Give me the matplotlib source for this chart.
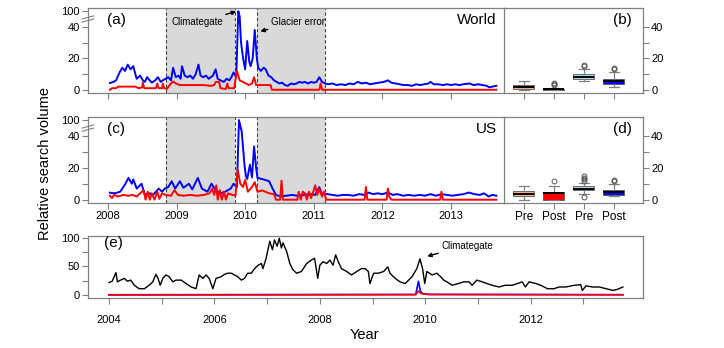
import numpy as np
import matplotlib
matplotlib.use("Agg")
import matplotlib.pyplot as plt
from matplotlib.ticker import FixedLocator, NullFormatter

plt.rcParams['font.family'] = ['Liberation Sans', 'DejaVu Sans']

# ---- data ----
# (a) World, weekly relative search volume
worldBlueYears = [2008.03, 2008.08, 2008.12, 2008.17, 2008.21, 2008.25, 2008.29, 2008.33, 2008.37, 2008.40,
                  2008.42, 2008.47, 2008.51, 2008.54, 2008.57, 2008.61, 2008.64, 2008.69, 2008.73, 2008.77,
                  2008.80, 2008.84, 2008.88, 2008.92, 2008.95, 2008.99, 2009.03, 2009.06, 2009.08, 2009.12,
                  2009.16, 2009.20, 2009.24, 2009.28, 2009.32, 2009.35, 2009.39, 2009.43, 2009.47, 2009.50,
                  2009.53, 2009.57, 2009.60, 2009.64, 2009.69, 2009.73, 2009.77, 2009.80, 2009.83, 2009.87,
                  2009.90, 2009.92, 2009.94, 2009.97, 2010.00, 2010.03, 2010.06, 2010.08, 2010.11, 2010.14,
                  2010.17, 2010.19, 2010.23, 2010.27, 2010.30, 2010.34, 2010.38, 2010.42, 2010.46, 2010.50,
                  2010.54, 2010.58, 2010.62, 2010.67, 2010.71, 2010.75, 2010.79, 2010.83, 2010.87, 2010.92,
                  2010.96, 2011.00, 2011.04, 2011.08, 2011.12, 2011.17, 2011.21, 2011.27, 2011.33, 2011.40,
                  2011.46, 2011.52, 2011.58, 2011.64, 2011.70, 2011.76, 2011.82, 2011.88, 2011.95, 2012.02,
                  2012.08, 2012.13, 2012.19, 2012.25, 2012.31, 2012.37, 2012.43, 2012.49, 2012.55, 2012.61,
                  2012.67, 2012.70, 2012.75, 2012.81, 2012.88, 2012.94, 2013.00, 2013.06, 2013.12, 2013.18,
                  2013.27, 2013.33, 2013.40, 2013.46, 2013.52, 2013.56, 2013.60, 2013.66]
worldBlue = [4.3, 5, 6, 11, 14, 12, 16, 13, 15, 10,
             7, 9, 6, 5, 8, 6, 4.5, 6, 8, 5,
             6, 7, 8, 6, 14, 8, 9, 7, 15, 9,
             8, 9, 7, 10, 16, 9, 8, 9, 7, 8,
             9, 13, 7, 6, 5, 7, 6, 8, 11, 8,
             100, 80, 30, 20, 13, 31, 18, 15, 20, 38,
             20, 14, 12, 14, 13, 9, 8, 6, 5, 4,
             4.5, 3, 2.5, 4, 3.5, 4, 5, 4.5, 5, 4,
             5, 4.5, 5, 8, 5, 4, 3.5, 4, 3, 3.5,
             3, 4, 3.5, 5, 4, 4.5, 3.5, 4, 4.5, 5,
             6, 4.5, 4, 3.5, 3, 3, 2.5, 3.5, 3, 3.5,
             4, 5, 3.5, 3.5, 3, 3.5, 3, 3.5, 3, 3.5,
             4, 3, 3.5, 3, 2.5, 1.5, 2, 2.5]

worldRedYears = [2008.03, 2008.06, 2008.12, 2008.15, 2008.30, 2008.40, 2008.45, 2008.50, 2008.51, 2008.53,
                 2008.70, 2008.72, 2008.74, 2008.79, 2008.80, 2008.82, 2008.86, 2008.90, 2008.95, 2008.99,
                 2009.05, 2009.40, 2009.50, 2009.55, 2009.57, 2009.62, 2009.64, 2009.72, 2009.74, 2009.76,
                 2009.84, 2009.88, 2009.92, 2009.97, 2010.05, 2010.10, 2010.13, 2010.16, 2010.37, 2010.39,
                 2011.08, 2011.10, 2011.12, 2013.66]
worldRed = [0, 1, 1, 2, 2, 2, 1, 1.5, 4.5, 1,
            1, 4, 1, 1, 4, 1, 0.5, 3, 5.3, 4,
            3, 3, 2.5, 3, 5, 5, 1, 0.5, 4, 1,
            1, 12, 6, 5, 3, 4, 8, 3, 3, 0,
            0, 4, 0, 0]

# (c) US
usBlueYears = [2008.03, 2008.10, 2008.18, 2008.25, 2008.30, 2008.35, 2008.37, 2008.42, 2008.49, 2008.54,
               2008.61, 2008.66, 2008.74, 2008.79, 2008.83, 2008.88, 2008.93, 2008.98, 2009.05, 2009.10,
               2009.18, 2009.23, 2009.31, 2009.37, 2009.45, 2009.51, 2009.57, 2009.64, 2009.71, 2009.79,
               2009.83, 2009.88, 2009.91, 2009.95, 2009.99, 2010.01, 2010.03, 2010.07, 2010.10, 2010.13,
               2010.16, 2010.18, 2010.27, 2010.35, 2010.40, 2010.45, 2010.52, 2010.60, 2010.68, 2010.76,
               2010.85, 2010.95, 2011.02, 2011.08, 2011.12, 2011.20, 2011.27, 2011.35, 2011.42, 2011.50,
               2011.58, 2011.66, 2011.74, 2011.80, 2011.86, 2011.93, 2012.00, 2012.08, 2012.15, 2012.22,
               2012.30, 2012.38, 2012.46, 2012.54, 2012.62, 2012.70, 2012.78, 2012.86, 2012.94, 2013.02,
               2013.10, 2013.18, 2013.26, 2013.34, 2013.42, 2013.48, 2013.55, 2013.60, 2013.66]
usBlue = [4.4, 4, 5, 9.6, 13.7, 10, 12.7, 7, 10, 3,
          4, 3, 7, 5, 7, 8, 11.6, 7, 11.6, 7.5,
          10, 6.5, 13.7, 7, 5, 10, 6, 4, 5, 7,
          10, 8, 100, 57, 22, 15, 13, 22, 14, 33.5,
          20, 13.7, 12.7, 11.6, 7, 3, 2, 2.5, 3, 2.5,
          3, 3.5, 3, 7.9, 3.5, 3.5, 3, 2.5, 3, 3,
          2.5, 3.5, 3, 4.5, 3.5, 4, 3.5, 4.5, 3, 3.5,
          2.5, 3, 2.5, 3, 2.5, 3.5, 2.5, 3.5, 3, 2.5,
          3, 3.5, 4.5, 3.5, 3, 4, 2, 3, 2.5]

usRedYears = [2008.03, 2008.06, 2008.09, 2008.15, 2008.22, 2008.30, 2008.36, 2008.42, 2008.47, 2008.52,
              2008.55, 2008.58, 2008.61, 2008.64, 2008.68, 2008.72, 2008.75, 2008.79, 2008.84, 2008.92,
              2008.97, 2009.02, 2009.10, 2009.20, 2009.30, 2009.40, 2009.48, 2009.52, 2009.55, 2009.58,
              2009.60, 2009.63, 2009.66, 2009.69, 2009.72, 2009.75, 2009.82, 2009.86, 2009.89, 2009.93,
              2009.97, 2010.00, 2010.04, 2010.10, 2010.14, 2010.18, 2010.25, 2010.35, 2010.42, 2010.45,
              2010.51, 2010.53, 2010.55, 2010.76, 2010.78, 2010.81, 2010.84, 2010.87, 2010.90, 2010.93,
              2010.96, 2011.00, 2011.02, 2011.05, 2011.08, 2011.12, 2011.15, 2011.18, 2011.74, 2011.76,
              2011.78, 2012.06, 2012.08, 2012.10, 2012.13, 2012.84, 2012.86, 2012.88, 2013.66]
usRed = [2.5, 1, 3, 2, 3, 2.5, 3, 2, 4, 6,
         0, 5, 0, 4, 0, 5, 0.5, 4, 3, 2.5,
         6, 3, 2.5, 3, 2.5, 3, 4, 7, 3, 9,
         0, 6, 0, 5, 0, 4, 3, 2.5, 19, 10,
         8, 12.5, 5, 8, 11, 5, 5.8, 4, 3.5, 0,
         0, 12, 0, 0, 5, 0, 5, 4, 0, 5,
         1, 6, 9, 3, 7, 2, 5, 0, 0, 8,
         0, 0, 7, 2, 0, 0, 5, 0, 0]

# (b), (d) boxplot summaries: Pre / Post for red and blue series
boxLabels = ['Pre', 'Post', 'Pre', 'Post']
boxColors = ['#f4b183', '#ff0000', '#add8e6', '#0000ff']
worldMed = [1.7, 0.2, 8.3, 5.3]
worldQ1 = [0.2, 0.0, 7.0, 3.8]
worldQ3 = [3.0, 0.5, 10.0, 7.0]
worldLo = [0.0, 0.0, 5.3, 2.0]
worldHi = [5.3, 1.0, 13.4, 11.3]
worldFliers = [[], [3.2, 3.8, 4.5], [15.0, 16.0], [13.0, 14.0]]
usMed = [3.8, 4.4, 6.9, 4.8]
usQ1 = [2.3, 0.0, 5.8, 2.7]
usQ3 = [5.2, 4.6, 8.3, 6.3]
usLo = [0.0, 0.0, 3.8, 2.1]
usHi = [8.3, 8.8, 10.2, 9.6]
usFliers = [[], [12.0], [1.7, 11.7, 12.8, 13.6, 14.8], [12.0, 12.6]]

# (e) 2004-2013 overview
longYears = [2004.00, 2004.06, 2004.13, 2004.16, 2004.22, 2004.29, 2004.35, 2004.41, 2004.48, 2004.57,
             2004.67, 2004.76, 2004.83, 2004.89, 2004.93, 2004.97, 2005.02, 2005.08, 2005.14, 2005.21,
             2005.27, 2005.37, 2005.46, 2005.56, 2005.65, 2005.71, 2005.78, 2005.84, 2005.90, 2005.97,
             2006.03, 2006.13, 2006.19, 2006.25, 2006.32, 2006.38, 2006.44, 2006.51, 2006.57, 2006.63,
             2006.70, 2006.76, 2006.83, 2006.89, 2006.92, 2006.98, 2007.05, 2007.10, 2007.14, 2007.19,
             2007.23, 2007.27, 2007.30, 2007.37, 2007.43, 2007.49, 2007.56, 2007.65, 2007.75, 2007.84,
             2007.90, 2007.96, 2008.00, 2008.06, 2008.13, 2008.19, 2008.25, 2008.30, 2008.35, 2008.41,
             2008.51, 2008.60, 2008.70, 2008.79, 2008.86, 2008.92, 2008.95, 2009.02, 2009.11, 2009.21,
             2009.29, 2009.33, 2009.43, 2009.52, 2009.62, 2009.75, 2009.84, 2009.90, 2009.95, 2009.99,
             2010.03, 2010.13, 2010.22, 2010.29, 2010.35, 2010.41, 2010.51, 2010.63, 2010.73, 2010.83,
             2010.89, 2010.98, 2011.08, 2011.17, 2011.27, 2011.40, 2011.52, 2011.65, 2011.75, 2011.84,
             2011.90, 2011.97, 2012.10, 2012.19, 2012.32, 2012.44, 2012.54, 2012.67, 2012.83, 2012.95,
             2012.98, 2013.05, 2013.17, 2013.30, 2013.43, 2013.56, 2013.65, 2013.75]
longBlack = [21.8, 24, 39, 23, 26, 29, 24, 26, 17, 11,
             11, 17, 23, 36, 29, 17, 29, 35, 32, 23,
             26, 26, 20, 14, 11, 35, 29, 35, 29, 11,
             29, 32, 36, 38, 38, 35, 32, 26, 29, 38,
             38, 46, 52, 55, 46, 64, 94, 79, 96, 85,
             99, 82, 91, 76, 55, 44, 38, 41, 55, 61,
             64, 29, 52, 58, 55, 61, 52, 70, 58, 46,
             41, 35, 41, 46, 46, 41, 20, 38, 38, 41,
             49, 38, 29, 23, 20, 32, 46, 63, 46, 20,
             41, 35, 38, 32, 26, 23, 17, 20, 23, 23,
             17, 26, 23, 20, 17, 14, 17, 17, 20, 23,
             14, 23, 20, 17, 11, 11, 14, 14, 17, 18,
             8, 16, 14, 14, 11, 8, 10, 14]
longBlueYears = [2004.00, 2009.82, 2009.87, 2009.91, 2009.96, 2010.05, 2013.75]
longBlue = [0.5, 1, 24, 6, 2, 1, 0.5]
longRedYears = [2004.00, 2009.82, 2009.87, 2009.91, 2009.96, 2010.10, 2013.75]
longRed = [0, 0.5, 7, 3, 2, 1, 0.5]

# periods shaded in (a) and (c)
prePeriod = (2008.84, 2009.85)
postPeriod = (2010.18, 2011.17)

GREY = '#808080'


def fwd(v):
    v = np.asarray(v, dtype=float)
    return np.where(v <= 40, v, 40 + (v - 40) / 6.0)


def inv(u):
    u = np.asarray(u, dtype=float)
    return np.where(u <= 40, u, 40 + (u - 40) * 6.0)


def styleAxes(ax):
    for s in ax.spines.values():
        s.set_color(GREY)
        s.set_linewidth(0.9)
    ax.tick_params(which='both', direction='out', color=GREY, width=0.8, labelsize=8, pad=2, length=4)


def brokenAxis(ax):
    # small "=" break mark on the left spine
    tr = ax.get_yaxis_transform()
    for y0, y1 in [(58, 70), (70, 82)]:
        ax.plot([-0.014, 0.014], [y0, y1], color=GREY, lw=0.8, transform=tr, clip_on=False)


def timePanel(ax, blueX, blueY, redX, redY, tag, place, labels):
    ax.set_yscale('function', functions=(fwd, inv))
    for lo, hi in [prePeriod, postPeriod]:
        ax.axvspan(lo, hi, color='#d9d9d9', lw=0, zorder=0)
        ax.axvline(lo, color='#404040', ls=(0, (3, 2)), lw=0.8, zorder=1)
        ax.axvline(hi, color='#404040', ls=(0, (3, 2)), lw=0.8, zorder=1)
    ax.plot(blueX, blueY, color='#0000ff', lw=1.4, zorder=3)
    ax.plot(redX, redY, color='#ff0000', lw=1.4, zorder=4)
    ax.set_xlim(2007.71, 2013.77)
    ax.set_ylim(-2, 112)
    ax.set_xticks([2008, 2009, 2010, 2011, 2012, 2013])
    if not labels:
        ax.set_xticklabels([])
    ax.set_yticks([0, 20, 40, 100])
    ax.yaxis.set_minor_locator(FixedLocator([10, 30]))
    ax.yaxis.set_minor_formatter(NullFormatter())
    styleAxes(ax)
    ax.spines['right'].set_visible(False)
    brokenAxis(ax)
    ax.text(0.046, 0.86, tag, transform=ax.transAxes, fontsize=11, va='center')
    ax.text(0.983, 0.86, place, transform=ax.transAxes, fontsize=11, va='center', ha='right')


def boxPanel(ax, med, q1, q3, lo, hi, fliers, tag, labels):
    stats = []
    for i in range(len(med)):
        stats.append({'med': med[i], 'q1': q1[i], 'q3': q3[i], 'whislo': lo[i],
                      'whishi': hi[i], 'fliers': fliers[i]})
    bp = ax.bxp(stats, positions=[1, 2, 3, 4], widths=0.7, patch_artist=True,
                medianprops={'color': 'black', 'lw': 1.4},
                whiskerprops={'color': GREY, 'lw': 0.9},
                capprops={'color': GREY, 'lw': 0.9},
                flierprops={'marker': 'o', 'markersize': 3.5, 'markerfacecolor': 'none',
                            'markeredgecolor': '#555555', 'markeredgewidth': 0.7})
    for patch, c in zip(bp['boxes'], boxColors):
        patch.set_facecolor(c)
        patch.set_edgecolor('#555555')
        patch.set_linewidth(0.6)
    ax.set_yscale('function', functions=(fwd, inv))
    ax.set_ylim(-2, 112)
    ax.set_xlim(0.33, 4.97)
    ax.yaxis.tick_right()
    ax.set_yticks([0, 20, 40])
    ax.yaxis.set_minor_locator(FixedLocator([10, 30]))
    ax.yaxis.set_minor_formatter(NullFormatter())
    ax.set_xticks([1, 2, 3, 4])
    styleAxes(ax)
    if labels:
        ax.set_xticklabels(boxLabels, fontsize=8.5)
    else:
        ax.set_xticklabels([])
    ax.text(0.92, 0.86, tag, transform=ax.transAxes, fontsize=11, va='center', ha='right')


fig = plt.figure(figsize=(7.24, 3.48), dpi=100)

axA = fig.add_axes([0.1215, 0.733, 0.5745, 0.244])
axB = fig.add_axes([0.696, 0.733, 0.192, 0.244])
axC = fig.add_axes([0.1215, 0.417, 0.5745, 0.247])
axD = fig.add_axes([0.696, 0.417, 0.192, 0.247])
axE = fig.add_axes([0.1215, 0.144, 0.7665, 0.178])

timePanel(axA, worldBlueYears, worldBlue, worldRedYears, worldRed, '(a)', 'World', False)
timePanel(axC, usBlueYears, usBlue, usRedYears, usRed, '(c)', 'US', True)
boxPanel(axB, worldMed, worldQ1, worldQ3, worldLo, worldHi, worldFliers, '(b)', False)
boxPanel(axD, usMed, usQ1, usQ3, usLo, usHi, usFliers, '(d)', True)

arrow = dict(arrowstyle='-|>', color='black', lw=1.0, mutation_scale=6, shrinkA=0, shrinkB=1)
axA.annotate('Climategate', xy=(2009.89, 100), xytext=(2009.68, 58), fontsize=7,
             ha='right', va='center', arrowprops=arrow, zorder=5)
axA.annotate('Glacier error', xy=(2010.20, 37), xytext=(2010.37, 58), fontsize=7,
             ha='left', va='center', arrowprops=arrow, zorder=5)

# (e) long overview
axE.plot(longYears, longBlack, color='black', lw=1.0)
axE.plot(longBlueYears, longBlue, color='#0000ff', lw=1.2)
axE.plot(longRedYears, longRed, color='#ff0000', lw=1.2)
axE.set_xlim(2003.6, 2014.13)
axE.set_ylim(-5, 103)
axE.set_xticks([2004, 2006, 2008, 2010, 2012])
axE.xaxis.set_minor_locator(FixedLocator([2005, 2007, 2009, 2011, 2013]))
axE.set_yticks([0, 50, 100])
axE.yaxis.set_minor_locator(FixedLocator([25, 75]))
styleAxes(axE)
axE.tick_params(axis='x', pad=8)
axE.text(0.029, 0.89, '(e)', transform=axE.transAxes, fontsize=11, va='center')
axE.annotate('Climategate', xy=(2010.01, 67), xytext=(2010.30, 86), fontsize=7,
             ha='left', va='center', arrowprops=arrow)

fig.text(0.062, 0.53, 'Relative search volume', rotation=90, fontsize=10.5, ha='center', va='center')
fig.text(0.503, 0.037, 'Year', fontsize=10.5, ha='center', va='center')

fig.savefig('out.png', dpi=100)
